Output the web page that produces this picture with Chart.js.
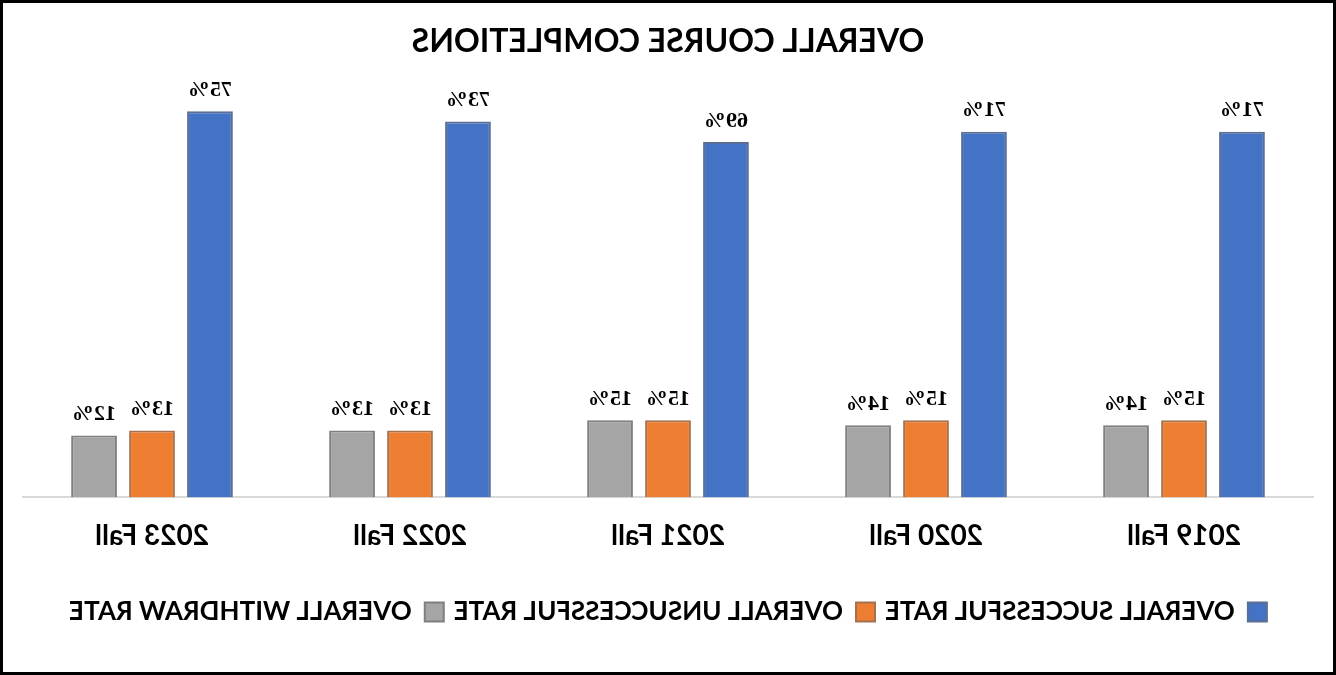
<!DOCTYPE html>
<html>
<head>
<meta charset="utf-8">
<script src="https://cdn.jsdelivr.net/npm/chart.js@4"></script>
<style>
  html, body { margin: 0; padding: 0; background: #fff; }
  #wrap {
    width: 1336px; height: 675px; box-sizing: border-box;
    border: 3px solid #000; position: relative;
  }
  /* the reference picture is a mirror image, so the canvas is flipped */
  #chart { transform: scaleX(-1); }
</style>
</head>
<body>
<div id="wrap"><canvas id="chart" width="1330" height="669"></canvas></div>
<script>
const terms = ['2019 Fall', '2020 Fall', '2021 Fall', '2022 Fall', '2023 Fall'];
const successfulRate = [71, 71, 69, 73, 75];
const unsuccessfulRate = [15, 15, 15, 13, 13];
const withdrawRate = [14, 14, 15, 13, 12];

const barLabels = {
    id: 'barLabels',
    afterDatasetsDraw(chart) {
        const ctx = chart.ctx;
        ctx.save();
        ctx.font = 'bold 22px "Liberation Serif", serif';
        ctx.fillStyle = '#000';
        ctx.textAlign = 'center';
        ctx.textBaseline = 'bottom';
        chart.data.datasets.forEach((ds, i) => {
            chart.getDatasetMeta(i).data.forEach((bar, j) => {
                ctx.fillText(ds.data[j] + '%', bar.x, bar.y - 10);
            });
        });
        ctx.restore();
    }
};

new Chart(document.getElementById('chart'), {
    type: 'bar',
    data: {
        labels: terms,
        datasets: [
            {
                label: 'OVERALL SUCCESSFUL RATE',
                data: successfulRate,
                backgroundColor: '#4472C4',
                borderColor: '#5b6f94',
                borderWidth: 2
            },
            {
                label: 'OVERALL UNSUCCESSFUL RATE',
                data: unsuccessfulRate,
                backgroundColor: '#ED7D31',
                borderColor: '#a5714e',
                borderWidth: 2
            },
            {
                label: 'OVERALL WITHDRAW RATE',
                data: withdrawRate,
                backgroundColor: '#A5A5A5',
                borderColor: '#7f7f7f',
                borderWidth: 2
            }
        ]
    },
    options: {
        responsive: false,
        animation: false,
        categoryPercentage: 0.674,
        barPercentage: 0.79,
        layout: { padding: { left: 20, right: 20, top: 6, bottom: 37 } },
        plugins: {
            title: {
                display: true,
                text: 'OVERALL COURSE COMPLETIONS',
                color: '#000',
                font: { family: 'Lato', size: 32, weight: 'bold' },
                padding: { top: 13, bottom: 25 }
            },
            legend: {
                position: 'bottom',
                labels: {
                    color: '#000',
                    boxWidth: 19,
                    boxHeight: 19,
                    padding: 10,
                    font: { family: 'Lato', size: 26, weight: 'bold' }
                }
            },
            tooltip: { enabled: false }
        },
        scales: {
            x: {
                grid: { display: false },
                border: { display: true, color: '#d9d9d9', width: 2 },
                ticks: {
                    color: '#000',
                    padding: 14,
                    font: { family: 'Lato', size: 28, weight: 'bold' }
                },
                afterFit(scale) { scale.height += 22; }
            },
            y: {
                display: false,
                min: 0,
                max: 80
            }
        }
    },
    plugins: [barLabels]
});
</script>
</body>
</html>
